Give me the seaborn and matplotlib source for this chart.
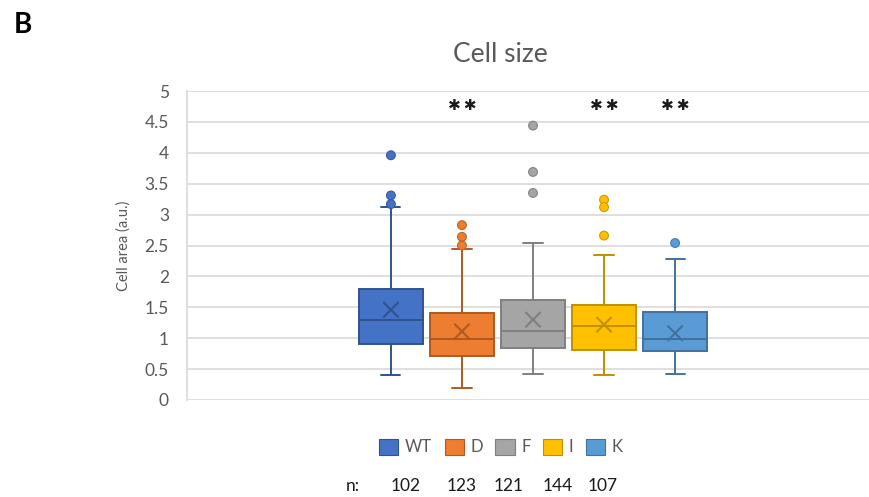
import numpy as np
import pandas as pd
import matplotlib
matplotlib.use("Agg")
import matplotlib.pyplot as plt
from matplotlib.patches import Patch
import seaborn as sns

# ---- data ----
groups = ["WT", "D", "F", "I", "K"]
n_counts = [102, 123, 121, 144, 107]
whisker_low = [0.40, 0.20, 0.42, 0.41, 0.42]
q1 = [0.91, 0.71, 0.84, 0.81, 0.79]
median = [1.30, 0.99, 1.12, 1.19, 0.99]
q3 = [1.80, 1.41, 1.62, 1.53, 1.42]
whisker_high = [3.12, 2.45, 2.54, 2.35, 2.28]
means = [1.46, 1.11, 1.30, 1.22, 1.08]
outliers = {
    "WT": [3.96, 3.31, 3.17],
    "D": [2.83, 2.64, 2.50],
    "F": [4.44, 3.69, 3.35],
    "I": [3.24, 3.12, 2.66],
    "K": [2.54],
}
significant = ["D", "I", "K"]

fills = ["#4472C4", "#ED7D31", "#A5A5A5", "#FFC000", "#5B9BD5"]
edges = ["#2F528F", "#AE5A21", "#7F7F7F", "#BF9000", "#41719C"]

sns.set_theme(style="white")
plt.rcParams["font.family"] = ["Lato", "DejaVu Sans"]

fig = plt.figure(figsize=(8.7, 4.97), dpi=100)
ax = fig.add_axes([187 / 870, 1 - 400 / 497, 692 / 870, 309 / 497])

# five-number summaries per group -> boxes (whiskers at min / max)
rows = []
for i, g in enumerate(groups):
    for v in (whisker_low[i], q1[i], median[i], q3[i], whisker_high[i]):
        rows.append({"group": g, "value": v})
df = pd.DataFrame(rows)

for i, g in enumerate(groups):
    sub = df[df["group"] == g]
    sns.boxplot(data=sub, x="group", y="value", order=groups, color=fills[i],
                linecolor=edges[i], linewidth=1.4, width=0.9, whis=np.inf,
                showfliers=False, saturation=1, ax=ax)

# shorten caps
for cont in ax.containers:
    if hasattr(cont, "caps"):
        for cap in cont.caps:
            xd = np.asarray(cap.get_xdata(), dtype=float)
            c = xd.mean()
            cap.set_xdata([c - 0.135, c + 0.135])

# means
mean_df = pd.DataFrame({"group": groups, "mean": means})
sns.scatterplot(data=mean_df, x="group", y="mean", hue="group", palette=edges,
                marker="x", s=120, linewidth=1.5, legend=False, ax=ax, zorder=5)

# outliers
out_rows = [{"group": g, "value": v} for g in groups for v in outliers[g]]
out_df = pd.DataFrame(out_rows)
sns.scatterplot(data=out_df, x="group", y="value", hue="group",
                palette=dict(zip(groups, fills)), hue_order=groups, s=40,
                edgecolor=None, linewidth=0, legend=False, ax=ax, zorder=5)
for coll in ax.collections[-1:]:
    fc = coll.get_facecolors()
    coll.set_edgecolors([tuple(np.clip(np.array(c[:3]) * 0.8, 0, 1)) + (1,) for c in fc])
    coll.set_linewidths(0.8)

# significance marks
for g in significant:
    ax.text(groups.index(g), 4.76, "\u2731\u2009\u2731", ha="center", va="center",
            fontsize=11, color="#1a1a1a", family="DejaVu Sans")

ax.set_xlim(-2.87, 6.87)
ax.set_ylim(0, 5)
ax.set_yticks(np.arange(0, 5.01, 0.5))
ax.set_yticklabels(["0", "0.5", "1", "1.5", "2", "2.5", "3", "3.5", "4", "4.5", "5"])
ax.set_xticks([])
ax.set_xlabel("")
ax.set_ylabel("Cell area (a.u.)", fontsize=10.5, color="#595959", labelpad=10)
ax.tick_params(axis="y", labelsize=12.5, colors="#595959", length=0, pad=13)
ax.yaxis.grid(True, color="#D9D9D9", linewidth=1.2)
ax.set_axisbelow(True)
for s in ["top", "right", "bottom"]:
    ax.spines[s].set_visible(False)
ax.spines["left"].set_color("#D9D9D9")
ax.spines["left"].set_linewidth(1.2)

fig.text(500 / 870, 1 - 55 / 497, "Cell size", ha="center", va="center",
         fontsize=19, color="#595959")
fig.text(14 / 870, 1 - 25 / 497, "B", ha="left", va="center", fontsize=20,
         fontweight="bold", color="black")

handles = [Patch(facecolor=f, edgecolor=e, linewidth=0.8) for f, e in zip(fills, edges)]
fig.legend(handles, groups, loc="center", bbox_to_anchor=(501 / 870, 1 - 447 / 497),
           ncol=5, frameon=False, fontsize=12, labelcolor="#595959",
           handlelength=1.15, handleheight=1.15, handletextpad=0.4, columnspacing=0.75)

fig.text(353 / 870, 1 - 486 / 497, "n:", ha="center", va="center", fontsize=12.5, color="#1a1a1a")
n_x = [406, 462, 509, 558, 603]
for xx, n in zip(n_x, n_counts):
    fig.text(xx / 870, 1 - 486 / 497, str(n), ha="center", va="center",
             fontsize=12.5, color="#1a1a1a")

fig.savefig("out.png", dpi=100)
